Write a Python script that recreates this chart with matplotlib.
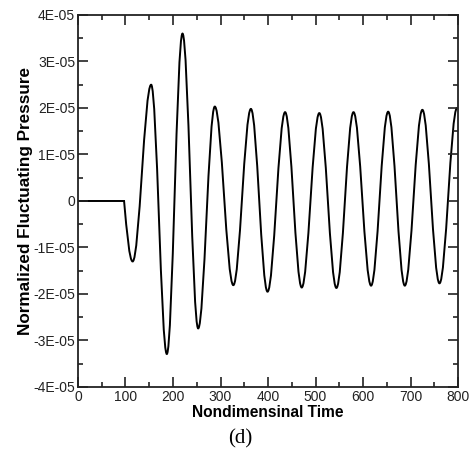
import matplotlib
matplotlib.use("Agg")
import matplotlib.pyplot as plt
from matplotlib.path import Path
from matplotlib.patches import PathPatch
from matplotlib.ticker import MultipleLocator, FixedLocator, FixedFormatter

# Data: onset point, then alternating extrema
onset_time = 97.0
quiet_start = 0.0
extrema_time = [115, 154, 187, 220, 253, 288, 327, 364, 399, 436, 471, 508,
                544, 580, 617, 653, 688, 725, 761, 798]
extrema_value = [-1.30e-05, 2.50e-05, -3.29e-05, 3.60e-05, -2.74e-05, 2.03e-05,
                 -1.81e-05, 1.98e-05, -1.95e-05, 1.91e-05, -1.86e-05, 1.89e-05,
                 -1.87e-05, 1.91e-05, -1.82e-05, 1.92e-05, -1.82e-05, 1.96e-05,
                 -1.77e-05, 2.00e-05]

x_ticks = [0, 100, 200, 300, 400, 500, 600, 700, 800]
y_ticks = [-4e-05, -3e-05, -2e-05, -1e-05, 0, 1e-05, 2e-05, 3e-05, 4e-05]
y_tick_labels = ["-4E-05", "-3E-05", "-2E-05", "-1E-05", "0",
                 "1E-05", "2E-05", "3E-05", "4E-05"]

plt.rcParams['font.family'] = ['Liberation Sans', 'DejaVu Sans']

fig = plt.figure(figsize=(4.73, 4.5), dpi=100)
ax = fig.add_axes([0.1649, 0.14, 0.8034, 0.8267])

# Build smooth curve path (cubic Bezier segments through the data points)
verts = [(quiet_start, 0.0), (onset_time, 0.0)]
codes = [Path.MOVETO, Path.LINETO]
t0, v0 = onset_time, 0.0
t1, v1 = extrema_time[0], extrema_value[0]
dt = t1 - t0
verts += [(t0 + dt / 3, v1 * 0.524), (t1 - 0.36 * dt, v1), (t1, v1)]
codes += [Path.CURVE4] * 3
for i in range(len(extrema_time) - 1):
    ta, va = extrema_time[i], extrema_value[i]
    tb, vb = extrema_time[i + 1], extrema_value[i + 1]
    d = tb - ta
    verts += [(ta + 0.36 * d, va), (tb - 0.36 * d, vb), (tb, vb)]
    codes += [Path.CURVE4] * 3
patch = PathPatch(Path(verts, codes), facecolor='none', edgecolor='black',
                  lw=1.4, transform=ax.transData)
ax.add_patch(patch)
patch.set_clip_path(ax.patch)

ax.set_xlim(0, 800)
ax.set_ylim(-4e-05, 4e-05)
ax.xaxis.set_major_locator(FixedLocator(x_ticks))
ax.xaxis.set_minor_locator(MultipleLocator(50))
ax.yaxis.set_major_locator(FixedLocator(y_ticks))
ax.yaxis.set_major_formatter(FixedFormatter(y_tick_labels))
ax.yaxis.set_minor_locator(MultipleLocator(0.5e-05))

ax.tick_params(which='both', direction='in', top=True, right=True,
               colors='#222222', labelsize=10, width=1.2)
ax.tick_params(which='major', length=7, pad=2)
ax.tick_params(which='minor', length=3.5)
for s in ax.spines.values():
    s.set_linewidth(1.3)
    s.set_color('#222222')

ax.set_xlabel("Nondimensinal Time", fontsize=11.2, fontweight='bold', labelpad=1)
ax.set_ylabel("Normalized Fluctuating Pressure", fontsize=12.3, fontweight='bold', labelpad=0)

fig.text(240 / 473, 1 - 439 / 450, "(d)", fontsize=15, family='Liberation Serif',
         ha='center', va='center')

fig.savefig("out.png", dpi=100)
